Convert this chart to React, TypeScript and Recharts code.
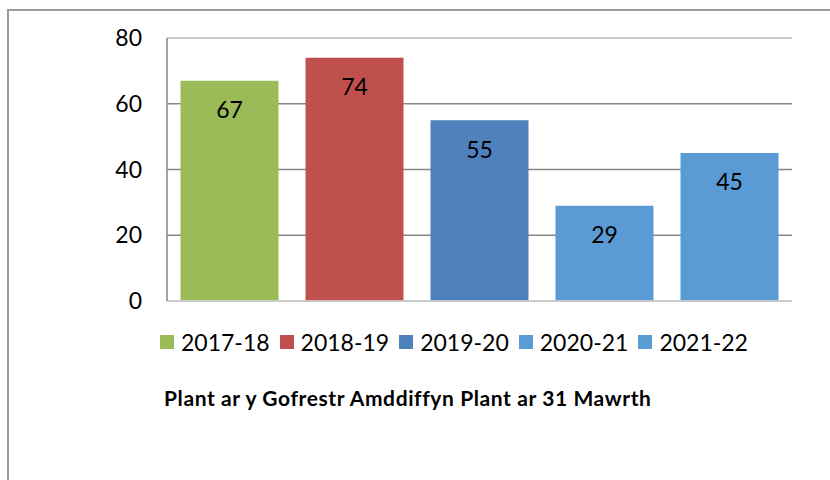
import React from "react";
import {
  BarChart,
  Bar,
  XAxis,
  YAxis,
  CartesianGrid,
  Cell,
  LabelList,
  Legend,
  ReferenceLine,
} from "recharts";

const years = ["2017-18", "2018-19", "2019-20", "2020-21", "2021-22"];
const counts = [67, 74, 55, 29, 45];
const barColors = ["#9BBB59", "#C0504D", "#4F81BD", "#5B9BD5", "#5B9BD5"];
const yTicks = [0, 20, 40, 60, 80];
const title = "Plant ar y Gofrestr Amddiffyn Plant ar 31 Mawrth";

const data = years.map((year, i) => ({ year, value: counts[i] }));

const FONT = "Lato, 'Noto Sans', sans-serif";

function YearLegend() {
  return (
    <div style={{ display: "flex", gap: 10, alignItems: "center" }}>
      {years.map((y, i) => (
        <div key={y} style={{ display: "flex", alignItems: "center" }}>
          <span
            style={{
              width: 14,
              height: 14,
              background: barColors[i],
              display: "inline-block",
              marginRight: 7,
            }}
          />
          <span style={{ fontSize: 23, color: "#000", lineHeight: "24px" }}>{y}</span>
        </div>
      ))}
    </div>
  );
}

export default function App() {
  return (
    <div
      style={{
        position: "absolute",
        left: 0,
        top: 0,
        width: 830,
        height: 480,
        overflow: "hidden",
        background: "#fff",
        fontFamily: FONT,
      }}
    >
      {/* frame round the chart, cut off right and bottom */}
      <div
        style={{
          position: "absolute",
          left: 7,
          top: 9,
          width: 900,
          height: 600,
          border: "2px solid #9a9a9a",
        }}
      />
      <div style={{ position: "absolute", left: 0, top: 0 }}>
        <BarChart
          width={830}
          height={480}
          data={data}
          margin={{ top: 38, right: 38, left: 0, bottom: 178 }}
          barCategoryGap="10.8%"
        >
          <CartesianGrid vertical={false} stroke="#868686" strokeWidth={1.5} />
          <XAxis
            dataKey="year"
            height={1}
            tick={false}
            tickLine={false}
            axisLine={{ stroke: "#d9d9d9", strokeWidth: 1.5 }}
          />
          <YAxis
            width={167}
            domain={[0, 80]}
            ticks={yTicks}
            tickLine={false}
            tickSize={0}
            tickMargin={25}
            axisLine={{ stroke: "#868686", strokeWidth: 1.5 }}
            tick={{ fill: "#000", fontSize: 23, fontFamily: FONT }}
          />
          <ReferenceLine y={80} stroke="#d9d9d9" strokeWidth={1.5} />
          <Legend
            layout="horizontal"
            verticalAlign="middle"
            align="center"
            wrapperStyle={{ top: 330, left: 160, width: "auto" }}
            content={() => <YearLegend />}
          />
          <Bar dataKey="value" isAnimationActive={false}>
            {data.map((d, i) => (
              <Cell key={d.year} fill={barColors[i]} />
            ))}
            <LabelList
              dataKey="value"
              position="insideTop"
              offset={21}
              fill="#000"
              fontSize={23}
              fontFamily={FONT}
            />
          </Bar>
        </BarChart>
      </div>
      <div
        style={{
          position: "absolute",
          left: 164,
          top: 385,
          fontSize: 21,
          letterSpacing: 0.6,
          fontWeight: 700,
          color: "#000",
          whiteSpace: "nowrap",
        }}
      >
        {title}
      </div>
    </div>
  );
}
